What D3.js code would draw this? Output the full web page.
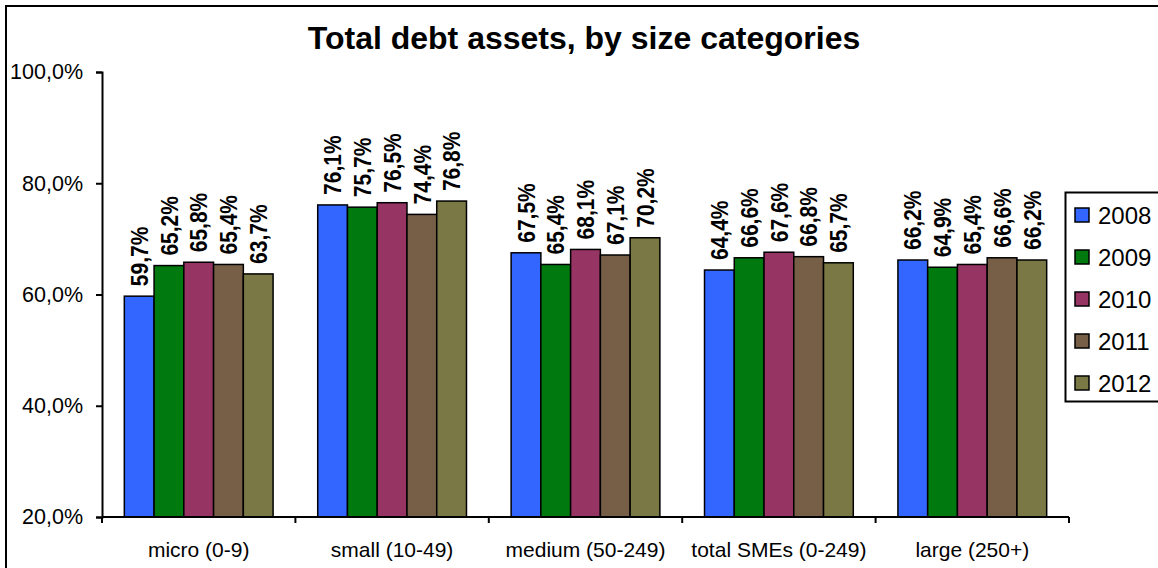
<!DOCTYPE html>
<html>
  <head>
    <meta charset="utf-8">
    <title>Total debt assets</title>
    <script src="https://d3js.org/d3.v7.min.js"></script>
    <style>
      body { margin: 0; background: #fff; }
      text { font-family: "Liberation Sans", Arial, sans-serif; }
    </style>
  </head>
  <body>
    <div id="my_dataviz"></div>
    <script>

    // categories, series and ticks
    var categories = ["micro (0-9)", "small (10-49)", "medium (50-249)", "total SMEs (0-249)", "large (250+)"]
    var years = ["2008", "2009", "2010", "2011", "2012"]
    var v2008 = [59.7, 76.1, 67.5, 64.4, 66.2]
    var v2009 = [65.2, 75.7, 65.4, 66.6, 64.9]
    var v2010 = [65.8, 76.5, 68.1, 67.6, 65.4]
    var v2011 = [65.4, 74.4, 67.1, 66.8, 66.6]
    var v2012 = [63.7, 76.8, 70.2, 65.7, 66.2]
    var yTicks = [20, 40, 60, 80, 100]
    var colors = ["#3366ff", "#007a0e", "#963564", "#775f47", "#7a7845"]

    var series = [v2008, v2009, v2010, v2011, v2012]

    var width = 1158, height = 568
    var plot = {left: 102, right: 1069, top: 72, bottom: 517}

    var svg = d3.select("#my_dataviz")
      .append("svg")
        .attr("width", width)
        .attr("height", height)

    // outer chart border
    svg.append("rect")
      .attr("x", 6).attr("y", 6)
      .attr("width", 1200).attr("height", 600)
      .attr("fill", "none")
      .attr("stroke", "#000")
      .attr("stroke-width", 2)

    // title
    svg.append("text")
      .attr("x", 584).attr("y", 49)
      .attr("text-anchor", "middle")
      .style("font-size", "32px")
      .style("font-weight", "bold")
      .text("Total debt assets, by size categories")

    // scales
    var x = d3.scaleBand()
      .domain(categories)
      .range([plot.left, plot.right])
      .paddingInner(0.2308)
      .paddingOuter(0.1154)

    var xSub = d3.scaleBand()
      .domain(years)
      .range([0, x.bandwidth()])

    var y = d3.scaleLinear()
      .domain([20, 100])
      .range([plot.bottom, plot.top])

    // bars
    var data = []
    categories.forEach(function(c, i) {
      years.forEach(function(yr, j) {
        data.push({cat: c, year: yr, value: series[j][i], color: colors[j]})
      })
    })

    var g = svg.append("g")

    g.selectAll("rect.bar")
      .data(data)
      .enter()
      .append("rect")
        .attr("class", "bar")
        .attr("x", function(d) { return x(d.cat) + xSub(d.year) })
        .attr("y", function(d) { return y(d.value) })
        .attr("width", xSub.bandwidth())
        .attr("height", function(d) { return y(20) - y(d.value) })
        .style("fill", function(d) { return d.color })
        .style("stroke", "#000")
        .style("stroke-width", 1.5)

    // value labels, rotated
    g.selectAll("text.lbl")
      .data(data)
      .enter()
      .append("text")
        .attr("class", "lbl")
        .attr("transform", function(d) {
          var cx = x(d.cat) + xSub(d.year) + xSub.bandwidth() / 2
          return "translate(" + cx + "," + (y(d.value) - 10) + ") rotate(-90) scale(1,1.15)"
        })
        .attr("dy", "0.36em")
        .style("font-size", "21px")
        .style("font-weight", "bold")
        .text(function(d) { return d.value.toFixed(1).replace(".", ",") + "%" })

    // y axis
    var yAxis = svg.append("g")
      .attr("transform", "translate(" + plot.left + ",0)")
      .call(d3.axisLeft(y).tickValues(yTicks).tickSize(6).tickPadding(13)
        .tickFormat(function(d) { return d.toFixed(1).replace(".", ",") + "%" }))
    yAxis.select(".domain").attr("stroke", "#000").attr("stroke-width", 2)
    yAxis.selectAll(".tick line").attr("stroke", "#000").attr("stroke-width", 2)
    yAxis.selectAll(".tick text")
      .style("font-size", "21.5px")
      .style("font-family", "'Liberation Sans', Arial, sans-serif")
      .attr("fill", "#000")

    // x axis with ticks at category boundaries
    var xAxisG = svg.append("g")
    xAxisG.append("line")
      .attr("x1", plot.left).attr("x2", plot.right)
      .attr("y1", plot.bottom).attr("y2", plot.bottom)
      .attr("stroke", "#000").attr("stroke-width", 2)
    var step = x.step()
    var bounds = d3.range(categories.length + 1).map(function(i) { return x(categories[0]) - x.paddingOuter() * step + i * step })
    xAxisG.selectAll("line.tk")
      .data(bounds)
      .enter()
      .append("line")
        .attr("class", "tk")
        .attr("x1", function(d) { return d }).attr("x2", function(d) { return d })
        .attr("y1", plot.bottom).attr("y2", plot.bottom + 6)
        .attr("stroke", "#000").attr("stroke-width", 2)
    xAxisG.selectAll("text")
      .data(categories)
      .enter()
      .append("text")
        .attr("x", function(d) { return x(d) + x.bandwidth() / 2 })
        .attr("y", 557)
        .attr("text-anchor", "middle")
        .style("font-size", "21px")
        .text(function(d) { return d })

    // legend
    var legend = svg.append("g")
    legend.append("rect")
      .attr("x", 1065.5).attr("y", 192.5)
      .attr("width", 120).attr("height", 209)
      .attr("fill", "#fff")
      .attr("stroke", "#000")
      .attr("stroke-width", 2)
    var items = legend.selectAll("g.item")
      .data(years)
      .enter()
      .append("g")
        .attr("class", "item")
        .attr("transform", function(d, i) { return "translate(1075," + (215 + i * 42) + ")" })
    items.append("rect")
      .attr("x", 0).attr("y", -7)
      .attr("width", 14).attr("height", 14)
      .style("fill", function(d, i) { return colors[i] })
      .style("stroke", "#000")
      .style("stroke-width", 1.5)
    items.append("text")
      .attr("x", 23).attr("dy", "0.36em")
      .style("font-size", "24px")
      .text(function(d) { return d })

    </script>
  </body>
</html>
